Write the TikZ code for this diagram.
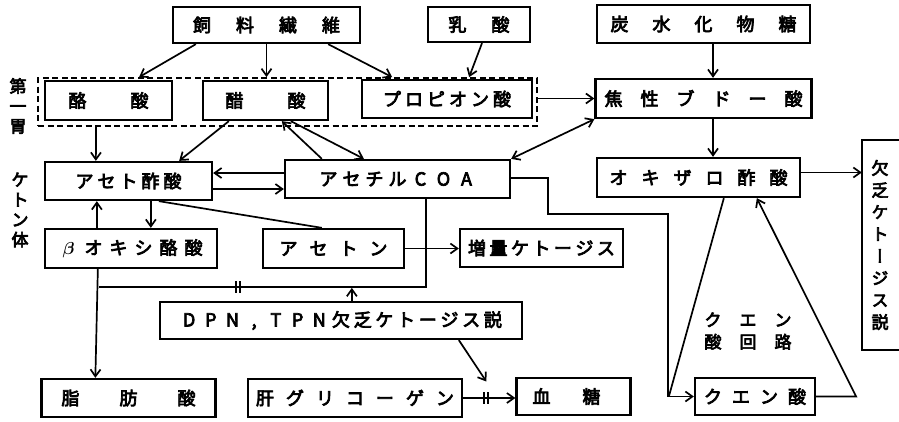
\documentclass[tikz,border=0pt]{standalone}
\usepackage{amsmath}
\usepackage{fontspec}
\setmainfont{Noto Sans CJK JP}[AutoFakeBold=4]
\newfontfamily\jpv{Noto Sans CJK JP}[AutoFakeBold=4,RawFeature=+vert]
\usetikzlibrary{arrows.meta,calc}
\def\lsp#1#2{\def\lspw{#1}\lspA#2\relax}
\def\lspA#1{\ifx\relax#1\else\makebox[\lspw]{#1}\expandafter\lspA\fi}
\tikzset{
  bl/.style={line width=2.3pt},
  box/.style={draw, bl, inner sep=0pt, font=\bfseries\fontsize{18}{18}\selectfont},
  wh/.style 2 args={minimum width=#1pt, minimum height=#2pt},
  dbox/.style={draw, line width=1.8pt, dash pattern=on 6pt off 3.5pt, inner sep=0pt},
  ln/.style={line width=1.7pt},
  arr/.style={ln, -{Straight Barb[length=7pt,width=10pt,line width=1.7pt]}},
  darr/.style={ln, {Straight Barb[length=7pt,width=10pt,line width=1.7pt]}-{Straight Barb[length=7pt,width=10pt,line width=1.7pt]}},
  vlab/.style={align=center, inner sep=0pt, font=\bfseries\fontsize{17}{20}\selectfont},
}
\begin{document}
\begin{tikzpicture}[x=1pt,y=-1pt]
\useasboundingbox (0,0) rectangle (899,421);
\node[dbox, wh={499}{48}] (dash) at (287.5,102) {};
\node[box, wh={187}{36}] (feed) at (266.5,25) {\lsp{43pt}{飼料繊維}};
\node[box, wh={102}{35}] (lac) at (479,24.5) {\lsp{43pt}{乳酸}};
\node[box, wh={213}{38}] (carb) at (703.5,24) {\lsp{42pt}{炭水化物糖}};
\node[box, wh={127}{39}] (but) at (108.5,100.5) {\lsp{62pt}{酪酸}};
\node[box, wh={125}{39}] (ace) at (265.5,100.5) {\lsp{62pt}{醋酸}};
\node[box, wh={170}{38}] (prop) at (447,99) {\lsp{22pt}{プロピオン酸}};
\node[box, wh={213}{39}] (pyr) at (703.5,98.5) {\lsp{36pt}{焦性ブドー酸}};
\node[box, wh={167}{38}] (acac) at (128.5,181) {\lsp{22pt}{アセト酢酸}};
\node[box, wh={225}{38}] (acoa) at (397.5,179) {\lsp{23pt}{アセチルCOA}};
\node[box, wh={203}{39}] (oxa) at (698.5,177.5) {\lsp{32pt}{オキザロ酢酸}};
\node[inner sep=0pt, wh={36}{210}, font=\jpv\bfseries\fontsize{17}{22}\selectfont, align=center] (def) at (880,245) {欠\\乏\\ケ\\ト\\ー\\ジ\\ス\\説};
\draw[bl] ($(def.north east)+(12,0)$) -- (def.north west) -- (def.south west) -- ($(def.south east)+(12,0)$);
\node[box, wh={172}{39}] (bhb) at (131,248.5) {\makebox[25pt]{$\boldsymbol{\beta}$}\lsp{25pt}{オキシ酪酸}};
\node[box, wh={141}{39}] (acet) at (333.5,248.5) {\lsp{30pt}{アセトン}};
\node[box, wh={163}{38}] (inc) at (541.5,248) {\lsp{21.5pt}{増量ケトージス}};
\node[box, wh={362}{37}] (dpn) at (341,320.5) {\lsp{21.7pt}{DPN,TPN欠乏ケトージス説}};
\node[box, wh={169}{38}] (fat) at (128.5,398) {\lsp{58pt}{脂肪酸}};
\node[box, wh={214}{38}] (liv) at (355,398) {\lsp{30pt}{肝グリコーゲン}};
\node[box, wh={103}{37}] (blood) at (573.5,396.5) {\lsp{50pt}{血糖}\hspace*{14pt}};
\node[box, wh={120}{37}] (cit) at (755,396.5) {\lsp{28pt}{クエン酸}};
\node[vlab] (l1) at (18,106) {第\\一\\胃};
\node[vlab] (l2) at (20,210) {ケ\\ト\\ン\\体};
\node[inner sep=0pt, align=center, font=\bfseries\fontsize{17}{22}\selectfont] (cyc) at (748,331) {\lsp{35pt}{クエン}\\\lsp{35pt}{酸回路}};
\coordinate (j) at (99,287);
\draw[arr] ($(feed.south west)+(24,0)$) -- ($(dash.north west)+(102,0)$);
\draw[arr] (feed.south) -- (feed.south |- dash.north);
\draw[arr] ($(feed.south east)+(-33,0)$) -- ($(dash.north west)+(355,0)$);
\draw[arr] ($(lac.south)+(3,0)$) -- ($(dash.north west)+(432,0)$);
\draw[arr] ($(carb.south)+(9.5,0)$) -- ($(pyr.north)+(9.5,0)$);
\draw[arr] (dash.east |- pyr.west) -- (pyr.west);
\draw[darr] (acoa.north east) -- (pyr.south west);
\draw[arr] ($(acoa.north west)+(38,0)$) -- ($(ace.south west)+(80,0)$);
\draw[arr] ($(ace.south west)+(89,0)$) -- ($(acoa.north west)+(80,0)$);
\draw[arr] ($(ace.south west)+(27,0)$) -- ($(acac.north east)+(-34,0)$);
\draw[arr] ($(dash.south west)+(59,0)$) -- ($(acac.north west)+(52,0)$);
\draw[arr] ($(acoa.west |- acac.east)+(0,-8)$) -- ($(acac.east)+(0,-8)$);
\draw[arr] ($(acac.east)+(0,8)$) -- ($(acoa.west |- acac.east)+(0,8)$);
\draw[arr] ($(bhb.north west)+(53,0)$) -- ($(acac.south west)+(53,0)$);
\draw[arr] ($(acac.south west)+(107,0)$) -- ($(bhb.north west)+(107,0)$);
\draw[ln] ($(acac.south west)+(115,0)$) -- ($(acet.north west)+(60,0)$);
\draw[arr] (acet.east) -- (acet.east -| inc.west);
\draw[ln] ($(acoa.south west)+(142,0)$) |- (j);
\draw[arr] ($(bhb.south west)+(54,0)$) -- ($(fat.north west)+(55,0)$);
\draw[ln] ($(j)+(137,-6)$) -- ++(0,12) ($(j)+(141,-6)$) -- ++(0,12);
\draw[arr] ($(dpn.north west)+(193,0)$) -- ++(0,-13);
\draw[arr] ($(dpn.south west)+(300,0)$) -- ($(blood.west)+(-29,-15)$);
\draw[arr] (liv.east) -- (liv.east -| blood.west);
\draw[ln] ($(liv.east)+(21,-6)$) -- ++(0,12) ($(liv.east)+(25,-6)$) -- ++(0,12);
\draw[arr] ($(oxa.east)+(0,-5)$) -- ($(oxa.east -| def.west)+(0,-5)$);
\draw[arr] ($(pyr.south)+(9.5,0)$) -- ($(oxa.north)+(14.5,0)$);
\draw[arr] ($(acoa.east)+(0,-1)$) -- ++(37,0) -- ++(0,36) -- ++(120,0) |- (cit.west);
\draw[ln] ($(oxa.south west)+(128,0)$) -- ($(cit.west)+(-25,0)$);
\draw[arr] (cit.east) -- ++(40,0) -- ($(oxa.south west)+(161,0)$);
\end{tikzpicture}
\end{document}
